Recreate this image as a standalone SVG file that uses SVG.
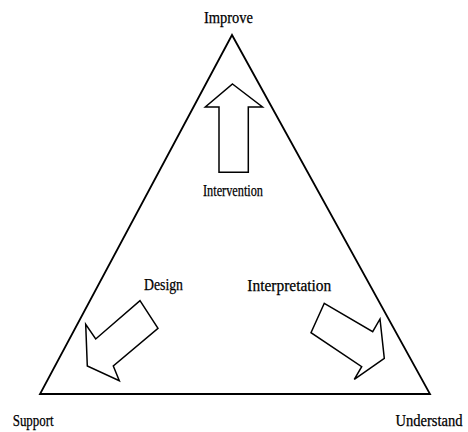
<svg xmlns="http://www.w3.org/2000/svg" width="468" height="432" viewBox="0 0 468 432">
<style>
.edge{fill:none;stroke:#000;stroke-width:1.8;stroke-linejoin:miter}
.arrow{fill:#fff;stroke:#000;stroke-width:1.5;stroke-linejoin:miter}
.lbl{font-family:"Liberation Serif","Times New Roman",serif;font-size:16px;fill:#000;stroke:#000;stroke-width:0.25}
</style>
<rect width="468" height="432" fill="#fff"/>
<g id="connectors">
<polygon class="edge" points="232,35 40,394 430,394"/>
<polygon id="arrow-intervention" class="arrow" points="232.5,84 262.5,107 248.3,107 248.3,172.3 219,172.3 219,107 205.3,107"/>
<polygon id="arrow-design" class="arrow" points="140,300.7 158,328.3 113.3,366 119.3,380.7 87.3,366 85.7,324.3 95.7,339"/>
<polygon id="arrow-interpretation" class="arrow" points="324.3,303.3 372.7,331.7 380,319 384.3,358.3 354.3,379.3 361.7,366.7 311,332.7"/>
</g>
<g id="node-improve"><text class="lbl" x="204" y="23" textLength="49" lengthAdjust="spacingAndGlyphs">Improve</text></g>
<g id="node-support"><text class="lbl" x="12.7" y="425.5" textLength="41" lengthAdjust="spacingAndGlyphs">Support</text></g>
<g id="node-understand"><text class="lbl" x="395.5" y="425.5" textLength="67" lengthAdjust="spacingAndGlyphs">Understand</text></g>
<g id="label-intervention"><text class="lbl" x="203" y="196" textLength="60" lengthAdjust="spacingAndGlyphs">Intervention</text></g>
<g id="label-design"><text class="lbl" x="144" y="290" textLength="39" lengthAdjust="spacingAndGlyphs">Design</text></g>
<g id="label-interpretation"><text class="lbl" x="247.3" y="291" textLength="84" lengthAdjust="spacingAndGlyphs">Interpretation</text></g>
</svg>
